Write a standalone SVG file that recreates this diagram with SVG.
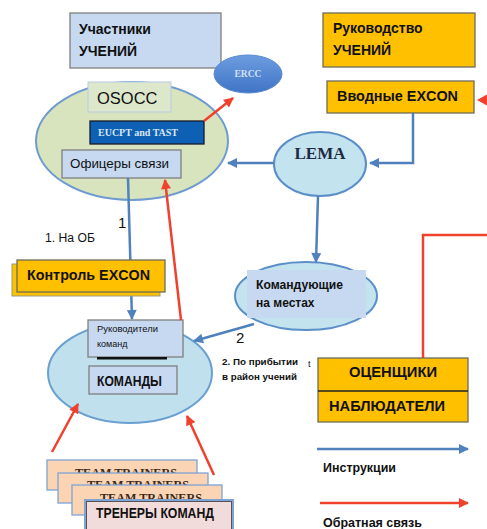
<svg xmlns="http://www.w3.org/2000/svg" width="487" height="529" viewBox="0 0 487 529">
<style>
  .t{font-family:"Liberation Sans",Arial,sans-serif;fill:#111;}
  .b{font-weight:bold;}
  .s{font-family:"Liberation Serif","Times New Roman",serif;font-weight:bold;}
  .lb{fill:#c6d9f1;stroke:#7f7f7f;stroke-width:1.3;}
  .gold{fill:#ffc000;stroke:#6d6d5a;stroke-width:1.3;}
  .blue{stroke:#4f81bd;stroke-width:2.5;fill:none;}
  .red{stroke:#f0412d;stroke-width:2.5;fill:none;}
  .peach{fill:#fbd4b4;stroke:#7ea3d4;stroke-width:1.3;}
</style>
<defs>
  <marker id="ab" viewBox="0 0 10 10" refX="9" refY="5" markerWidth="11" markerHeight="10" markerUnits="userSpaceOnUse" orient="auto">
    <path d="M0,0 L10,5 L0,10 z" fill="#4f81bd"/>
  </marker>
  <marker id="ar" viewBox="0 0 10 10" refX="9" refY="5" markerWidth="11" markerHeight="10" markerUnits="userSpaceOnUse" orient="auto">
    <path d="M0,0 L10,5 L0,10 z" fill="#f0412d"/>
  </marker>
  <linearGradient id="gE" x1="0" y1="0" x2="0" y2="1">
    <stop offset="0" stop-color="#6d9de0"/>
    <stop offset="1" stop-color="#3f74c6"/>
  </linearGradient>
</defs>

<g id="uchastniki">
  <rect x="70" y="13" width="151" height="55" class="lb"/>
  <text x="79" y="34" class="t b" font-size="14">Участники</text>
  <text x="79" y="56" class="t b" font-size="14">УЧЕНИЙ</text>
</g>

<g id="rukovodstvo">
  <rect x="323" y="13" width="152" height="54" class="gold"/>
  <text x="333" y="33" class="t b" font-size="14">Руководство</text>
  <text x="333" y="55" class="t b" font-size="14">УЧЕНИЙ</text>
</g>

<g id="ercc">
  <ellipse cx="248" cy="74" rx="34" ry="19" fill="url(#gE)" stroke="#5b8ad0" stroke-width="1"/>
  <text x="248" y="77" class="s" font-size="9.5" fill="#d2e0f4" text-anchor="middle">ERCC</text>
</g>

<g id="osocc">
  <ellipse cx="132" cy="141" rx="96" ry="59" fill="#d7e4bd" stroke="#6f9bd0" stroke-width="2"/>
  <rect x="88" y="82" width="83" height="30" fill="#dde7cc" stroke="#b8cce4" stroke-width="1"/>
  <text x="97" y="104" class="t" font-size="16.5" fill="#1b1b1b">OSOCC</text>
</g>

<g id="eucpt">
  <rect x="90" y="121" width="114" height="23" fill="#0e60b4" stroke="#1a1a2a" stroke-width="1.3"/>
  <text x="98" y="136" class="s" font-size="10" fill="#d9e6f5">EUCPT and TAST</text>
</g>

<g id="ofitsery">
  <rect x="62" y="150" width="119" height="28" class="lb" stroke="#555"/>
  <text x="70" y="168" class="t" font-size="13.5" textLength="99" lengthAdjust="spacingAndGlyphs">Офицеры связи</text>
</g>

<g id="vvodnye">
  <rect x="327" y="81" width="147" height="32" class="gold"/>
  <text x="337" y="101" class="t b" font-size="14" textLength="121" lengthAdjust="spacingAndGlyphs">Вводные EXCON</text>
</g>

<g id="lema">
  <ellipse cx="320" cy="164" rx="46" ry="32" fill="#c3e3ee" stroke="#5b8ec9" stroke-width="2"/>
  <text x="320" y="159" class="s" font-size="17" fill="#1f2a44" text-anchor="middle">LEMA</text>
</g>

<g id="komanduyushchie">
  <ellipse cx="306" cy="296" rx="71" ry="34" fill="#c3e3ee" stroke="#5b8ec9" stroke-width="2"/>
  <rect x="247" y="270" width="119" height="48" fill="#c6d9f1"/>
  <text x="256" y="289" class="t b" font-size="12" textLength="87" lengthAdjust="spacingAndGlyphs">Командующие</text>
  <text x="256" y="307" class="t b" font-size="12">на местах</text>
</g>

<g id="komandy">
  <ellipse cx="130" cy="373" rx="82" ry="50" fill="#bfe0ec" stroke="#6aa0d0" stroke-width="2"/>
  <rect x="88" y="320" width="95" height="37" class="lb"/>
  <text x="97" y="332" class="t" font-size="9" textLength="61" lengthAdjust="spacingAndGlyphs">Руководители</text>
  <text x="97" y="347" class="t" font-size="9">команд</text>
  <rect x="97" y="357" width="70" height="2.5" fill="#111"/>
  <rect x="89" y="366" width="88" height="28" class="lb" stroke="#555"/>
  <text x="97" y="386" class="t b" font-size="14" textLength="65" lengthAdjust="spacingAndGlyphs">КОМАНДЫ</text>
</g>

<g id="trenery">
  <rect x="47" y="460" width="150" height="30" class="peach"/>
  <text x="75" y="477" class="s" font-size="13" fill="#3a2a1a" textLength="102" lengthAdjust="spacingAndGlyphs">TEAM TRAINERS</text>
  <rect x="58" y="473" width="150" height="30" class="peach"/>
  <text x="87" y="489" class="s" font-size="13" fill="#3a2a1a" textLength="102" lengthAdjust="spacingAndGlyphs">TEAM TRAINERS</text>
  <rect x="72" y="485" width="150" height="30" class="peach"/>
  <text x="100" y="502" class="s" font-size="13" fill="#3a2a1a" textLength="102" lengthAdjust="spacingAndGlyphs">TEAM TRAINERS</text>
  <rect x="85" y="500" width="148" height="36" fill="#f2dcdb" stroke="#7ea3d4" stroke-width="2"/>
  <rect x="86.5" y="501.5" width="145" height="34" fill="none" stroke="#555" stroke-width="1"/>
  <text x="96" y="518" class="t b" font-size="14" textLength="118" lengthAdjust="spacingAndGlyphs">ТРЕНЕРЫ КОМАНД</text>
</g>

<g id="otsenshchiki">
  <rect x="318" y="358" width="150" height="64" class="gold"/>
  <line x1="318" y1="391" x2="468" y2="391" stroke="#222" stroke-width="1.5"/>
  <text x="349" y="377" class="t b" font-size="15" textLength="88" lengthAdjust="spacingAndGlyphs">ОЦЕНЩИКИ</text>
  <text x="329" y="411" class="t b" font-size="15" textLength="116" lengthAdjust="spacingAndGlyphs">НАБЛЮДАТЕЛИ</text>
</g>

<g id="connectors">
  <line x1="204" y1="121" x2="233" y2="98" class="red" marker-end="url(#ar)"/>
  <polyline points="413,113 413,163 370,163" class="blue" marker-end="url(#ab)"/>
  <line x1="274" y1="163" x2="228" y2="163" class="blue" marker-end="url(#ab)"/>
  <line x1="318" y1="196" x2="316" y2="262" class="blue" marker-end="url(#ab)"/>
  <line x1="254" y1="324" x2="194" y2="341" class="blue" marker-end="url(#ab)"/>
  <line x1="128" y1="178" x2="132" y2="319" class="blue" marker-end="url(#ab)"/>
  <line x1="181" y1="320" x2="165" y2="180" class="red" marker-end="url(#ar)"/>
  <line x1="52" y1="452" x2="78" y2="404" class="red" marker-end="url(#ar)"/>
  <line x1="214" y1="475" x2="187" y2="416" class="red" marker-end="url(#ar)"/>
  <polyline points="423,358 423,235 487,235" class="red" stroke-width="3"/>
  <polygon points="477,100 488,94 488,106" fill="#f0412d"/>
  <line x1="317" y1="449" x2="468" y2="449" class="blue" stroke-width="3" marker-end="url(#ab)"/>
  <line x1="320" y1="503" x2="468" y2="503" class="red" stroke-width="3" marker-end="url(#ar)"/>
</g>

<g id="kontrol">
  <rect x="12" y="264" width="148" height="32" fill="#ffc000" stroke="#9a9a80" stroke-width="1"/>
  <rect x="17" y="260" width="148" height="32" class="gold"/>
  <text x="27" y="280" class="t b" font-size="15" textLength="123" lengthAdjust="spacingAndGlyphs">Контроль EXCON</text>
</g>

<g id="labels">
  <text x="118" y="228" class="t" font-size="15">1</text>
  <text x="45" y="242" class="t" font-size="12.5" textLength="50" lengthAdjust="spacingAndGlyphs">1. На ОБ</text>
  <text x="236" y="343" class="t" font-size="15">2</text>
  <text x="222" y="365" class="t b" font-size="9" textLength="76" lengthAdjust="spacingAndGlyphs">2. По прибытии</text>
  <text x="222" y="380" class="t b" font-size="9" textLength="75" lengthAdjust="spacingAndGlyphs">в район учений</text>
  <text x="308" y="367" class="t" font-size="9" fill="#555">t</text>
  <text x="323" y="472" class="t b" font-size="12" textLength="73" lengthAdjust="spacingAndGlyphs">Инструкции</text>
  <text x="323" y="527" class="t b" font-size="13" textLength="99" lengthAdjust="spacingAndGlyphs">Обратная связь</text>
</g>
</svg>
